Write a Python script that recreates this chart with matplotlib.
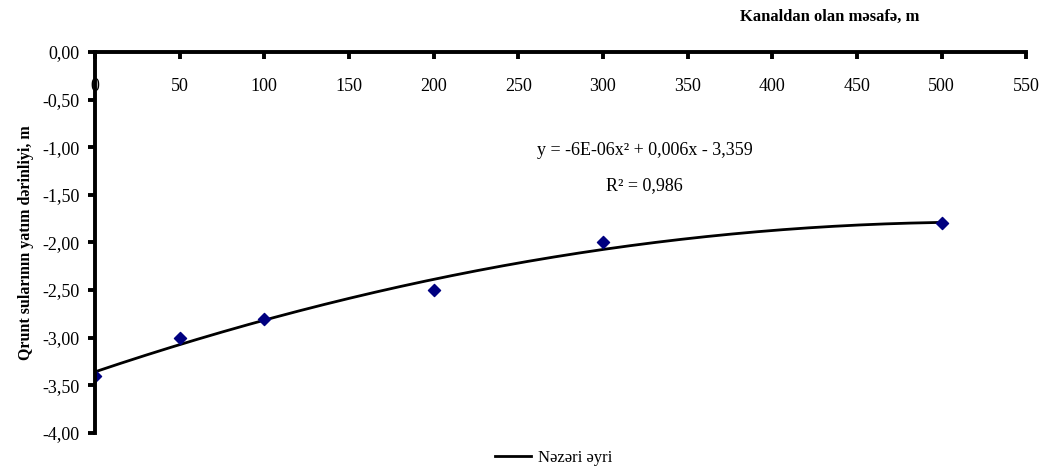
import numpy as np
import matplotlib
matplotlib.use("Agg")
import matplotlib.pyplot as plt
from matplotlib.lines import Line2D
from matplotlib.ticker import FuncFormatter

# data
distance = [0, 50, 100, 200, 300, 500]
depth = [-3.4, -3.0, -2.8, -2.5, -2.0, -1.8]
x_ticks = list(range(0, 551, 50))
y_ticks = [0, -0.5, -1.0, -1.5, -2.0, -2.5, -3.0, -3.5, -4.0]

plt.rcParams['font.family'] = ['Liberation Serif', 'DejaVu Serif']

fig = plt.figure(figsize=(10.44, 4.68), dpi=100)
ax = fig.add_axes([0.091, 0.075, 0.892, 0.814])

# poly trendline (2nd order), like Excel's
coef = np.polyfit(distance, depth, 2)
xs = np.linspace(0, 500, 300)
ax.plot(xs, np.polyval(coef, xs), color='black', lw=2, zorder=2)
ax.scatter(distance, depth, marker='D', s=38, color='#000080', zorder=3)

ax.set_xlim(0, 550)
ax.set_ylim(-4.0, 0)

ax.spines['top'].set_visible(False)
ax.spines['right'].set_visible(False)
ax.spines['bottom'].set_position(('data', 0))
for s in ('bottom', 'left'):
    ax.spines[s].set_linewidth(2.8)
    ax.spines[s].set_zorder(5)

ax.set_xticks(x_ticks)
ax.set_yticks(y_ticks)
ax.yaxis.set_major_formatter(FuncFormatter(lambda v, p: f"{v:.2f}".replace('.', ',')))
ax.tick_params(axis='x', direction='out', length=5, width=2.8, pad=14, labelsize=13)
ax.tick_params(axis='y', direction='out', length=5, width=2.8, pad=6, labelsize=13)

ax.set_ylabel("Qrunt sularının yatım dərinliyi, m", fontsize=11.5, fontweight='bold', labelpad=6)
fig.text(0.795, 0.963, "Kanaldan olan məsafə, m", fontsize=12, fontweight='bold',
         ha='center', va='center')

ax.text(0.59, 0.74, "y = -6E-06x² + 0,006x - 3,359", transform=ax.transAxes,
        fontsize=13, ha='center', va='center')
ax.text(0.59, 0.65, "R² = 0,986", transform=ax.transAxes,
        fontsize=13, ha='center', va='center')

handle = Line2D([], [], color='black', lw=2)
fig.legend([handle], ["Nəzəri əyri"], loc='center', bbox_to_anchor=(0.53, 0.022),
           frameon=False, fontsize=12, handlelength=2.2, handletextpad=0.4)

fig.savefig("out.png", dpi=100)
